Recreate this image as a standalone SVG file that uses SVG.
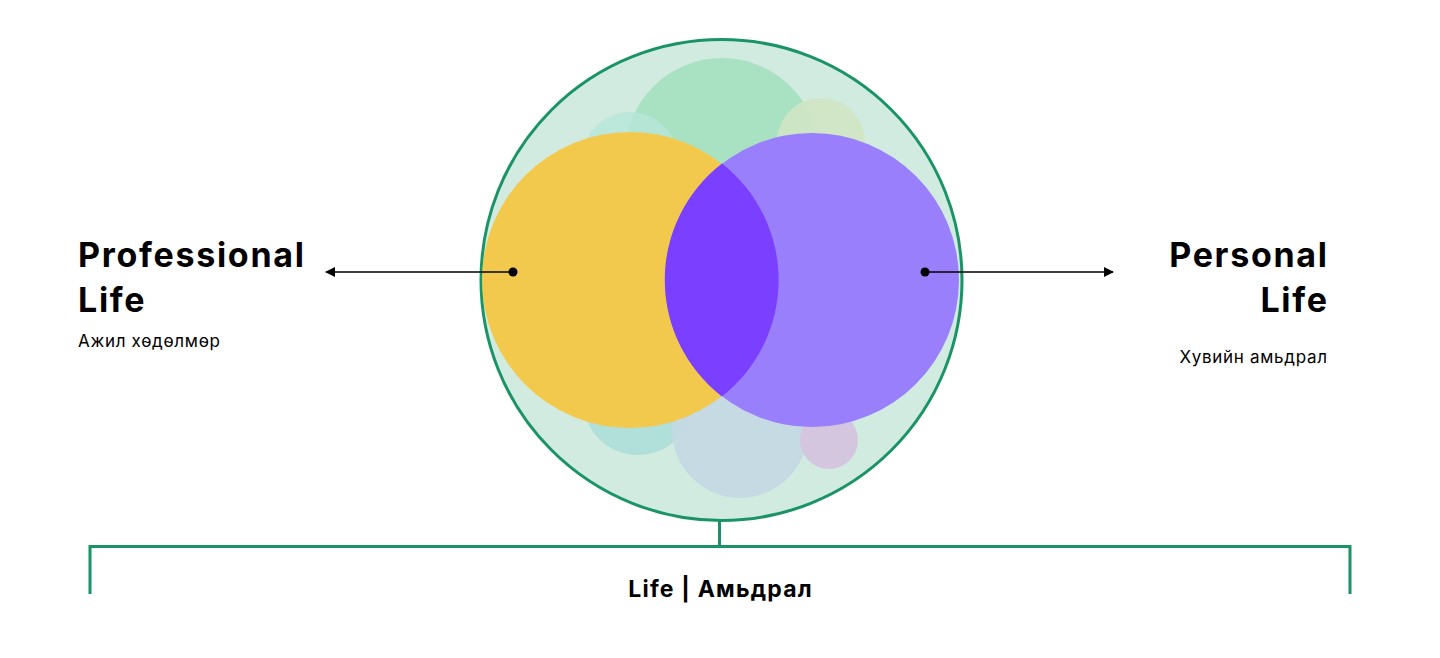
<svg xmlns="http://www.w3.org/2000/svg" width="1440" height="658" viewBox="0 0 1440 658">
<defs>
<style>
.title{font-family:Inter,"Noto Sans","Liberation Sans",sans-serif;font-weight:700;font-size:34px;letter-spacing:1.7px;fill:#000}
.sub{font-family:Inter,"Noto Sans","Liberation Sans",sans-serif;font-weight:400;font-size:17px;letter-spacing:0.7px;fill:#000}
.foot{font-family:Inter,"Noto Sans","Liberation Sans",sans-serif;font-weight:700;font-size:23px;letter-spacing:1.2px;fill:#000}
.green{stroke:#1A9466;stroke-width:3;fill:none}
.conn{stroke:#000;stroke-width:1.5;fill:none}
</style>
<marker id="ah" viewBox="0 0 10 10" refX="9" refY="5" markerWidth="10" markerHeight="10" markerUnits="userSpaceOnUse" orient="auto">
<path d="M0,0 L10,5 L0,10 z" fill="#000"/>
</marker>
</defs>
<rect width="1440" height="658" fill="#fff"/>
<g id="life-circle">
<circle cx="721.5" cy="280" r="240.5" fill="#D2EBE0"/>
<circle cx="722" cy="155" r="97" fill="#A9E2C2"/>
<circle cx="821" cy="142" r="44" fill="#CFE5C4" opacity="0.9"/>
<circle cx="630" cy="160" r="48" fill="#B7E6DA" opacity="0.8"/>
<circle cx="638" cy="400" r="55" fill="#B1E0DA"/>
<circle cx="740" cy="430" r="68" fill="#C5D9E3" opacity="0.95"/>
<circle cx="829" cy="440" r="29" fill="#D4C6DF"/>
<circle cx="721.5" cy="280" r="240.5" class="green"/>
</g>
<g id="professional">
<circle cx="630" cy="280" r="148" fill="#F2C94C"/>
</g>
<g id="personal">
<circle cx="812" cy="280" r="147" fill="#9A7FFD"/>
<path d="M722,163.6 A148,148 0 0 1 722,396.4 A147,147 0 0 1 722,163.6 Z" fill="#7A3FFF"/>
</g>
<g id="connectors">
<line x1="513" y1="272" x2="326" y2="272" class="conn" marker-end="url(#ah)"/>
<circle cx="513" cy="272" r="4.5" fill="#000"/>
<line x1="925" y1="272" x2="1113" y2="272" class="conn" marker-end="url(#ah)"/>
<circle cx="925" cy="272" r="4.5" fill="#000"/>
<path d="M719.5,520 V546.5 M90,594 V546.5 H1350 V594" class="green"/>
</g>
<g id="professional-label">
<text class="title" x="78" y="267">Professional</text>
<text class="title" x="78" y="312">Life</text>
<text class="sub" x="78" y="347">Ажил хөдөлмөр</text>
</g>
<g id="personal-label">
<text class="title" x="1328.7" y="267" text-anchor="end">Personal</text>
<text class="title" x="1328.7" y="312" text-anchor="end">Life</text>
<text class="sub" x="1327.7" y="363" text-anchor="end">Хувийн амьдрал</text>
</g>
<g id="life-label">
<text class="foot" x="720.6" y="597" text-anchor="middle">Life | Амьдрал</text>
</g>
</svg>
